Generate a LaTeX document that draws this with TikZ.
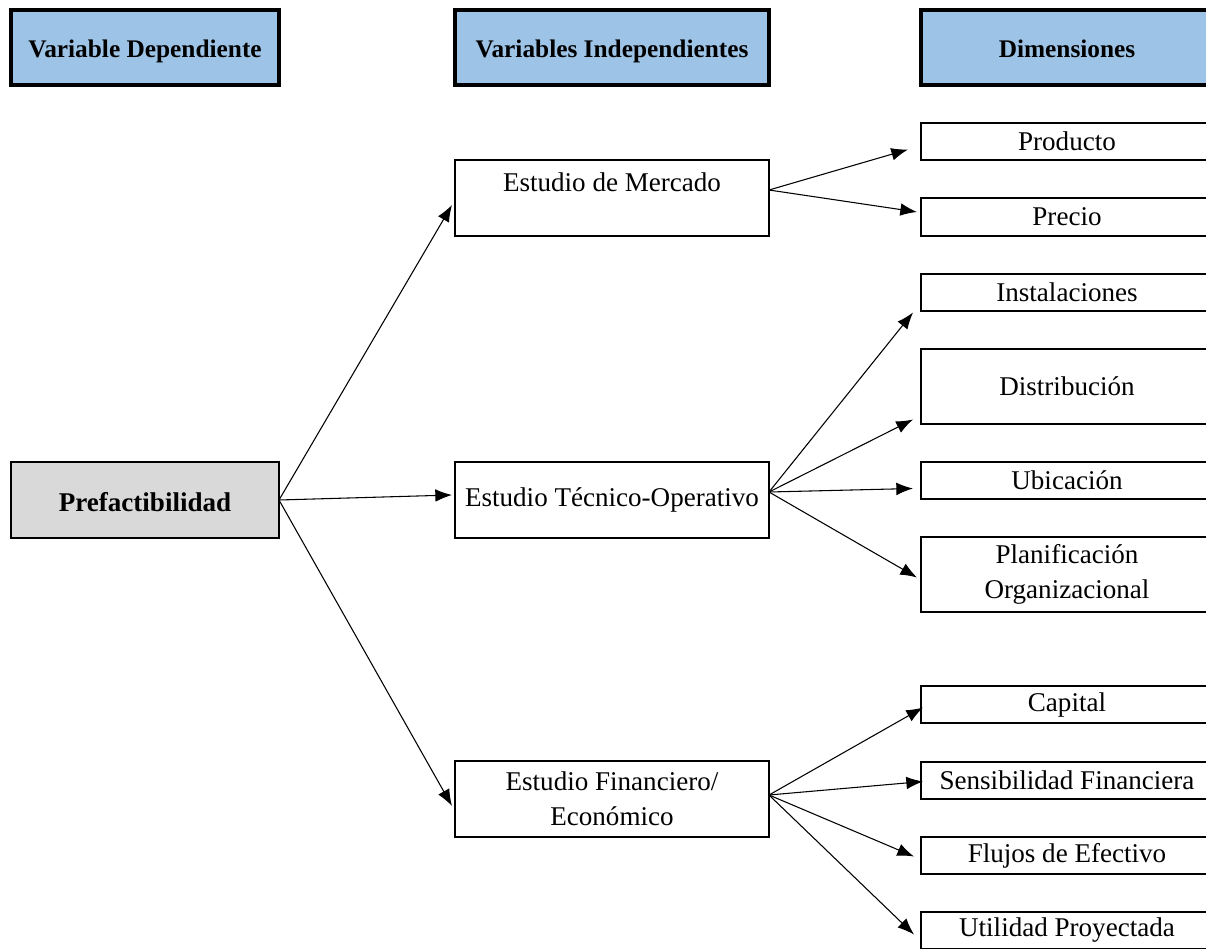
\documentclass[tikz,border=0pt]{standalone}
\usepackage{fontspec}
\setmainfont{Liberation Serif}
\usetikzlibrary{calc,arrows.meta}
\definecolor{cabecera}{RGB}{157,195,230}
\definecolor{gris}{RGB}{217,217,217}
\newcommand{\px}{0.75pt}
\tikzset{
	caja/.style={draw, line width=1.6pt, inner sep=0pt, outer sep=0pt, anchor=north west, align=center, font=\fontsize{20.3}{26}\selectfont},
	cabeza/.style={caja, fill=cabecera, line width=2.3pt, minimum height=75*\px, text height=18.8pt, text depth=4pt, font=\bfseries\fontsize{19}{24}\selectfont},
	dim/.style={caja, minimum width=292*\px},
	flecha/.style={->, line width=0.8pt},
}

\begin{document}
\begin{tikzpicture}[x=0.75pt,y=-0.75pt,>={Latex[length=12.5pt,width=9.5pt]}]
		%\draw[help lines] (0,0) grid[step=50] (1206,949);
		\useasboundingbox (0,0) rectangle (1206,949);
		\clip (0,0) rectangle (1206,949);
		
		%cabeceras
		\node[cabeza, minimum width=268*\px] (cab1) at (11,10) {Variable Dependiente};
		\node[cabeza, minimum width=314*\px] (cab2) at (455,10) {Variables Independientes};
		\node[cabeza, minimum width=292*\px] (cab3) at (921,10) {Dimensiones};
		
		%variable dependiente
		\node[caja, fill=gris, font=\bfseries\fontsize{20.3}{26}\selectfont, minimum width=268*\px, minimum height=76*\px, text height=17pt] (pre) at (11,462) {Prefactibilidad};
		
		%variables independientes
		\node[caja, minimum width=314*\px, minimum height=76*\px, text depth=24pt] (mer) at (455,160) {Estudio de Mercado};
		\node[caja, minimum width=314*\px, minimum height=76*\px] (tec) at (455,462) {Estudio T\'ecnico-Operativo};
		\node[caja, minimum width=314*\px, minimum height=76*\px] (fin) at (455,761) {Estudio Financiero/\\Econ\'omico};
		
		%dimensiones
		\node[dim, minimum height=37*\px] (prod) at (921,123) {Producto};
		\node[dim, minimum height=38*\px] (prec) at (921,198) {Precio};
		\node[dim, minimum height=37*\px] (ins) at (921,274) {Instalaciones};
		\node[dim, minimum height=75*\px] (dis) at (921,349) {Distribuci\'on};
		\node[dim, minimum height=37*\px] (ubi) at (921,462) {Ubicaci\'on};
		\node[dim, minimum height=75*\px] (pla) at (921,537) {Planificaci\'on\\Organizacional};
		\node[dim, minimum height=37*\px] (cap) at (921,686) {Capital};
		\node[dim, minimum height=37*\px] (sen) at (921,762) {Sensibilidad Financiera};
		\node[dim, minimum height=37*\px] (flu) at (921,837) {Flujos de Efectivo};
		\node[dim, minimum height=37*\px] (uti) at (921,912) {Utilidad Proyectada};
		
		%flechas
		\draw[flecha] (pre.east) -- ($(mer.west)+(-3,7)$);
		\draw[flecha] (pre.east) -- ($(tec.west)+(-3,-5)$);
		\draw[flecha] (pre.east) -- ($(fin.west)+(-3,7)$);
		
		\draw[flecha] ($(mer.east)+(0,-8)$) -- ($(prod.west)+(-13,8)$);
		\draw[flecha] ($(mer.east)+(0,-8)$) -- ($(prec.west)+(-4,-5)$);
		
		\draw[flecha] ($(tec.east)+(0,-8)$) -- ($(ins.west)+(-8,20)$);
		\draw[flecha] ($(tec.east)+(0,-8)$) -- ($(dis.west)+(-8,33)$);
		\draw[flecha] ($(tec.east)+(0,-8)$) -- ($(ubi.west)+(-8,8)$);
		\draw[flecha] ($(tec.east)+(0,-8)$) -- ($(pla.west)+(-4,3)$);
		
		\draw[flecha] ($(fin.east)+(0,-4)$) -- ($(cap.west)+(2,3)$);
		\draw[flecha] ($(fin.east)+(0,-4)$) -- ($(sen.west)+(2,1)$);
		\draw[flecha] ($(fin.east)+(0,-4)$) -- ($(flu.west)+(-7,1)$);
		\draw[flecha] ($(fin.east)+(0,-4)$) -- ($(uti.west)+(-7,4)$);
\end{tikzpicture}
\end{document}
